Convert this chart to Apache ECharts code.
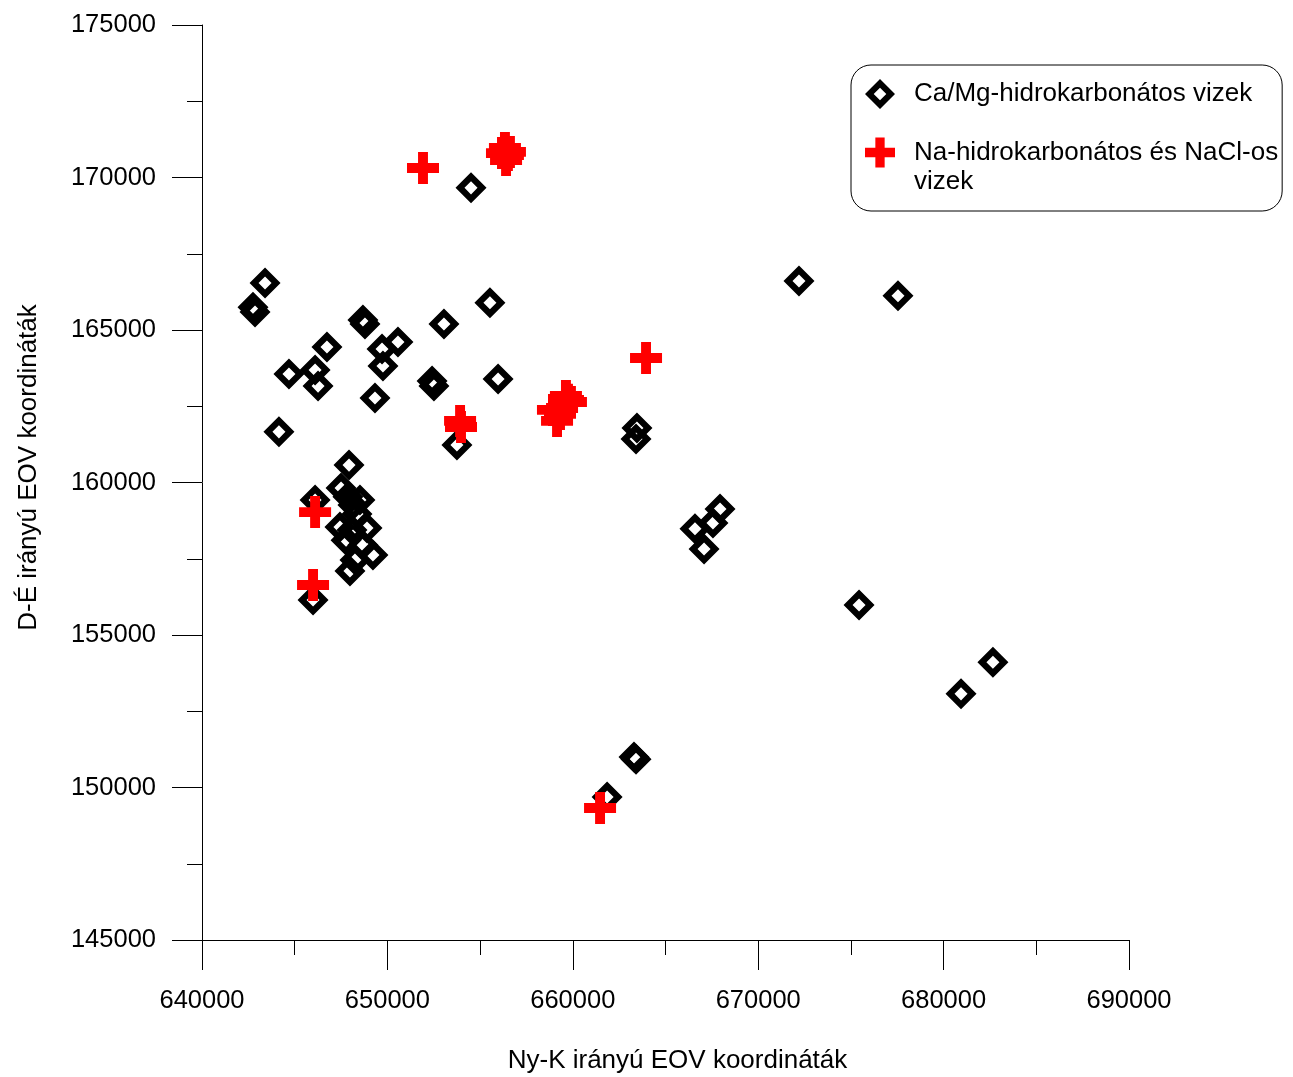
<!DOCTYPE html>
<html>
<head>
<meta charset="utf-8">
<script src="https://cdn.jsdelivr.net/npm/echarts@6/dist/echarts.min.js"></script>
<style>html,body{margin:0;padding:0;background:#fff;}#c{width:1293px;height:1077px;}</style>
</head>
<body>
<div id="c"></div>
<script>
var xTicks = [640000, 650000, 660000, 670000, 680000, 690000];
var yTicks = [145000, 150000, 155000, 160000, 165000, 170000, 175000];
var seriesNames = ['Ca/Mg-hidrokarbonátos vizek', 'Na-hidrokarbonátos és NaCl-os vizek'];
var caMgPoints = [
  [642750,165750],[642860,165590],[643400,166540],[644690,163560],[646100,163690],
  [646260,163160],[646740,164440],[648680,165330],[648790,165200],[649710,164380],
  [650570,164610],[649760,163820],[649330,162770],[652410,163330],[652510,163160],
  [653050,165200],[655530,165890],[655970,163390],[653750,161230],[644150,161660],
  [654510,169660],[663460,161790],[663410,161430],[667940,159130],[667560,158670],
  [666590,158480],[667080,157820],[672200,166610],[677540,166120],[675440,155980],
  [680940,153070],[682660,154110],[663410,150930],[663300,151000],[661850,149690],
  [645990,156150],[646100,159430],
  [647930,160570],[647500,159820],[648140,159260],[647440,158540],[648900,158510],
  [648680,157950],[649220,157620],[647980,157100],[647870,159530],[648360,158970],
  [647770,158110],[648250,157460],[648520,159430],[648090,158440]
];
var naPoints = [
  [651920,170310],
  [656340,170970],[656500,170740],[656180,170800],[656400,170570],[656610,170840],
  [663950,164080],
  [653920,162020],[653970,161820],
  [659630,162840],[659900,162640],[659150,162020],[658930,162380],[659420,162440],[659310,162250],[659740,162710],
  [646100,159030],[645990,156640],[661470,149330]
];

var diamondPath = 'path://M0,-1 L1,0 L0,1 L-1,0 Z M0,-0.42 L-0.42,0 L0,0.42 L0.42,0 Z';
var t = 0.31;
var crossPath = 'path://M-' + t + ',-1 L' + t + ',-1 L' + t + ',-' + t + ' L1,-' + t + ' L1,' + t + ' L' + t + ',' + t +
  ' L' + t + ',1 L-' + t + ',1 L-' + t + ',' + t + ' L-1,' + t + ' L-1,-' + t + ' L-' + t + ',-' + t + ' Z';

var font = 'Liberation Sans, Arial, sans-serif';
var plain = function (v) { return String(v); };
var chart = echarts.init(document.getElementById('c'), null, {renderer: 'canvas'});
chart.setOption({
  animation: false,
  backgroundColor: '#fff',
  textStyle: {fontFamily: font},
  grid: {left: 202, right: 164, top: 25, bottom: 137, containLabel: false, outerBoundsMode: 'none'},
  xAxis: {
    type: 'value',
    min: xTicks[0], max: xTicks[xTicks.length - 1], interval: 10000,
    name: 'Ny-K irányú EOV koordináták',
    nameLocation: 'middle', nameGap: 108,
    nameTextStyle: {fontSize: 26, color: '#000', fontFamily: font, padding: [0, 0, 0, 24]},
    axisLine: {show: true, onZero: false, lineStyle: {color: '#000', width: 1}},
    axisTick: {show: true, inside: false, length: 30, lineStyle: {color: '#000', width: 1}},
    minorTick: {show: true, splitNumber: 2, length: 15, lineStyle: {color: '#000', width: 1}},
    axisLabel: {fontSize: 25.5, color: '#000', margin: 48, fontFamily: font, formatter: plain},
    splitLine: {show: false}
  },
  yAxis: {
    type: 'value',
    min: yTicks[0], max: yTicks[yTicks.length - 1], interval: 5000,
    name: 'D-É irányú EOV koordináták',
    nameLocation: 'middle', nameGap: 160, nameRotate: 90,
    nameTextStyle: {fontSize: 26, color: '#000', fontFamily: font, padding: [0, 0, 0, 30]},
    axisLine: {show: true, onZero: false, lineStyle: {color: '#000', width: 1}},
    axisTick: {show: true, inside: false, length: 30, lineStyle: {color: '#000', width: 1}},
    minorTick: {show: true, splitNumber: 2, length: 15, lineStyle: {color: '#000', width: 1}},
    axisLabel: {fontSize: 25.5, color: '#000', margin: 46, fontFamily: font, formatter: plain},
    splitLine: {show: false}
  },
  legend: {
    orient: 'vertical',
    left: 851, top: 65,
    padding: [14, 4, 15, 14],
    itemWidth: 30, itemHeight: 30, itemGap: 0,
    borderColor: '#000', borderWidth: 1, borderRadius: 20,
    backgroundColor: '#fff',
    textStyle: {
      fontSize: 26, color: '#000', fontFamily: font, lineHeight: 29,
      rich: {s: {width: 14, height: 29, lineHeight: 29}}
    },
    selectedMode: false,
    data: [
      {name: seriesNames[0], icon: diamondPath},
      {name: seriesNames[1], icon: crossPath}
    ],
    formatter: function (n) {
      return n === seriesNames[1]
        ? '{s|}\n{s|}Na-hidrokarbonátos és NaCl-os\n{s|}vizek'
        : '{s|}' + n;
    }
  },
  series: [
    {
      name: seriesNames[0], type: 'scatter',
      symbol: diamondPath, symbolSize: 31,
      itemStyle: {color: '#000', opacity: 1},
      emphasis: {disabled: true},
      data: caMgPoints
    },
    {
      name: seriesNames[1], type: 'scatter',
      symbol: crossPath, symbolSize: 32,
      itemStyle: {color: '#ff0000', opacity: 1},
      emphasis: {disabled: true},
      data: naPoints
    }
  ]
});
</script>
</body>
</html>
